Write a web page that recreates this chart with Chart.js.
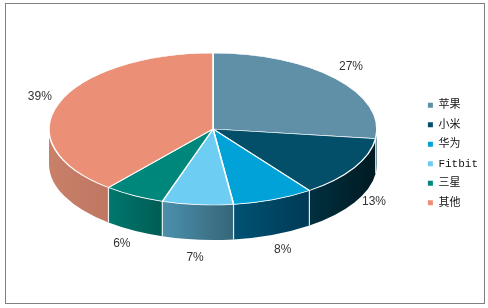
<!DOCTYPE html>
<html>
<head>
<meta charset="utf-8">
<script src="https://cdn.jsdelivr.net/npm/chart.js@4/dist/chart.umd.min.js"></script>
<style>
  html, body { margin: 0; padding: 0; background: #fff; }
  #wrap { position: relative; width: 488px; height: 308px; }
  #frame { position: absolute; left: 5px; top: 3px; width: 480px; height: 301px; border: 1px solid #808080; box-sizing: border-box; }
  canvas { position: absolute; left: 0; top: 0; }
</style>
</head>
<body>
<div id="wrap">
  <div id="frame"></div>
  <canvas id="c" width="488" height="308"></canvas>
</div>
<script>
const brands = ['苹果', '小米', '华为', 'Fitbit', '三星', '其他']
const shares = [27, 13, 8, 7, 6, 39]

const topColors = ['#5f90a8', '#034f69', '#00a2d8', '#6dcdf2', '#00877b', '#eb8f77']
const wallColors = [
  ['#4a7a90', '#3f6b80'],
  ['#00303f', '#001a22'],
  ['#005274', '#003a55'],
  ['#4c90ad', '#356678'],
  ['#00786d', '#005c54'],
  ['#c88069', '#bf7762'],
]

// where the tilted pie sits on the page
const pie3d = { cx: 213, cy: 129, rx: 164, ry: 76, depth: 35 }

const projectPlugin = {
  id: 'project3d',
  beforeDatasetsDraw(chart) {
    const ctx = chart.ctx
    const meta = chart.getDatasetMeta(0)
    const { cx, cy, rx, ry, depth } = pie3d

    // outer walls, front half only
    meta.data.forEach((arc, i) => {
      const s = Math.max(arc.startAngle, 0)
      const e = Math.min(arc.endAngle, Math.PI)
      if (e <= s) return
      const x1 = cx + rx * Math.cos(s)
      const x2 = cx + rx * Math.cos(e)
      const grad = ctx.createLinearGradient(Math.min(x1, x2), 0, Math.max(x1, x2), 0)
      grad.addColorStop(0, wallColors[i][0])
      grad.addColorStop(1, wallColors[i][1])
      ctx.save()
      ctx.beginPath()
      ctx.ellipse(cx, cy, rx, ry, 0, s, e)
      ctx.ellipse(cx, cy + depth, rx, ry, 0, e, s, true)
      ctx.closePath()
      ctx.fillStyle = grad
      ctx.fill()
      ctx.restore()
    })
    // white seams between walls
    ctx.save()
    ctx.strokeStyle = 'rgba(255,255,255,0.85)'
    ctx.lineWidth = 1.2
    meta.data.forEach((arc) => {
      const a = arc.startAngle
      if (a > 0.01 && a < Math.PI - 0.01) {
        const x = cx + rx * Math.cos(a)
        const y = cy + ry * Math.sin(a)
        ctx.beginPath()
        ctx.moveTo(x, y)
        ctx.lineTo(x, y + depth)
        ctx.stroke()
      }
    })
    ctx.restore()

    // squash the flat pie into the top face
    const a0 = meta.data[0]
    ctx.save()
    ctx.translate(cx, cy)
    ctx.scale(rx / a0.outerRadius, ry / a0.outerRadius)
    ctx.translate(-a0.x, -a0.y)
  },
  afterDatasetsDraw(chart) {
    const ctx = chart.ctx
    ctx.restore()
    const meta = chart.getDatasetMeta(0)
    const { cx, cy, rx, ry, depth } = pie3d
    ctx.save()
    ctx.font = '12px "Liberation Sans", Arial, sans-serif'
    ctx.fillStyle = '#333333'
    ctx.textAlign = 'center'
    ctx.textBaseline = 'middle'
    meta.data.forEach((arc, i) => {
      const mid = (arc.startAngle + arc.endAngle) / 2
      const c = Math.cos(mid)
      const s = Math.sin(mid)
      const x = cx + (rx + 20 + 6 * Math.max(s, 0)) * c
      const y = cy + (ry + 18) * s + (s > 0 ? depth * Math.sqrt(s) : 0)
      ctx.fillText(shares[i] + '%', x, y)
    })
    ctx.restore()
  },
}

new Chart(document.getElementById('c'), {
  type: 'pie',
  data: {
    labels: brands,
    datasets: [{
      data: shares,
      backgroundColor: topColors,
      borderColor: '#ffffff',
      borderWidth: 1.4,
    }],
  },
  options: {
    responsive: false,
    animation: false,
    devicePixelRatio: 1,
    layout: { padding: { top: 10, bottom: 10, left: 10, right: 0 } },
    plugins: {
      tooltip: { enabled: false },
      legend: {
        position: 'right',
        labels: {
          boxWidth: 5,
          boxHeight: 5,
          padding: 8.5,
          color: '#111',
          font: { family: '"Liberation Mono", "Noto Sans CJK SC", monospace', size: 11 },
          generateLabels(chart) {
            return Chart.overrides.pie.plugins.legend.labels.generateLabels(chart).map((item) => ({
              ...item,
              strokeStyle: item.fillStyle,
              lineWidth: 0,
            }))
          },
        },
      },
    },
  },
  plugins: [projectPlugin],
})
</script>
</body>
</html>
